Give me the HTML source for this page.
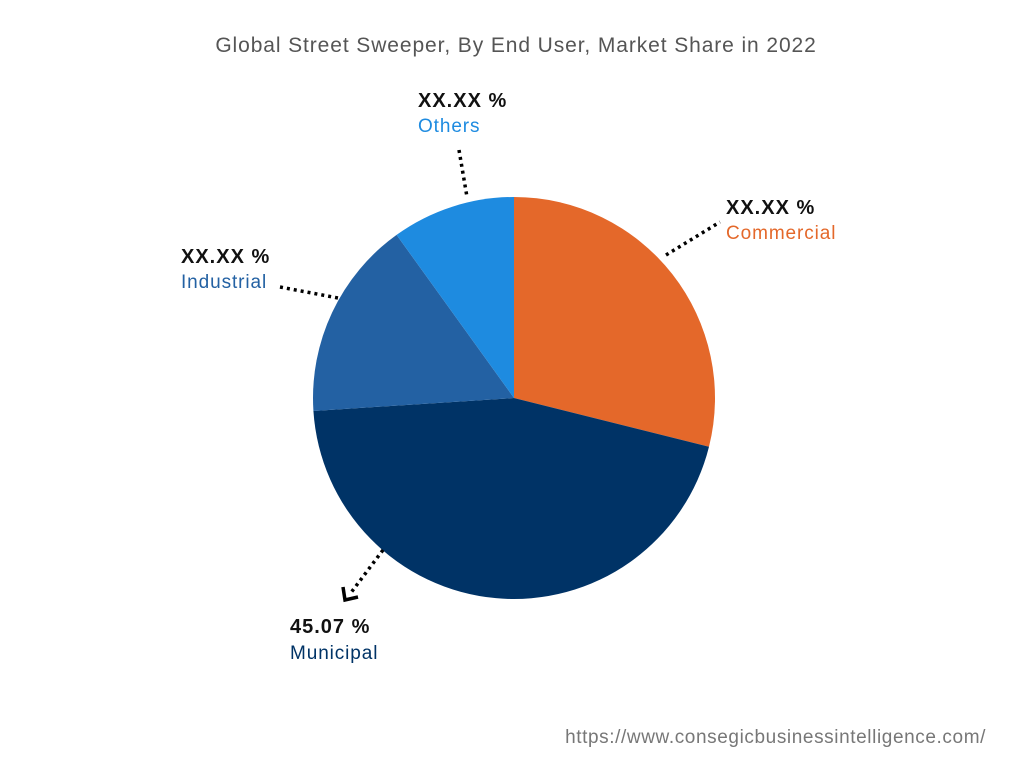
<!DOCTYPE html>
<html><head><meta charset="utf-8"><style>
html,body{margin:0;padding:0;background:#fff;width:1024px;height:768px;overflow:hidden}
svg{display:block}
text{font-family:"Liberation Sans",sans-serif}
</style></head><body>
<svg id="chart" width="1024" height="768">
<text x="516" y="52" text-anchor="middle" font-size="21" letter-spacing="0.9" fill="#555">Global  Street Sweeper, By End User, Market Share in 2022</text>
<g id="slices"></g>
<g stroke="#000" stroke-width="3.5" stroke-dasharray="3,4" fill="none">
<line x1="459" y1="150" x2="467" y2="197"/>
<line x1="666" y1="255" x2="720" y2="222"/>
<line x1="280" y1="287" x2="338" y2="298"/>
<line x1="383" y1="550" x2="350" y2="594"/>
</g>
<polyline points="343,587 345,600 358,597" fill="none" stroke="#000" stroke-width="3.5"/>
<g font-size="20" font-weight="bold" fill="#111" letter-spacing="1">
<text x="418" y="107">XX.XX %</text>
<text x="726" y="214">XX.XX %</text>
<text x="181" y="263">XX.XX %</text>
<text x="290" y="633">45.07 %</text>
</g>
<g font-size="19" letter-spacing="0.9">
<text x="418" y="132" fill="#1E8BE0">Others</text>
<text x="726" y="239" fill="#E4682A">Commercial</text>
<text x="181" y="288" fill="#2361A3">Industrial</text>
<text x="290" y="659" fill="#003366">Municipal</text>
</g>
<text x="986" y="743" text-anchor="end" font-size="19" letter-spacing="0.6" fill="#777">https://www.consegicbusinessintelligence.com/</text>
</svg>
<script>
const categories = ["Commercial","Municipal","Industrial","Others"];
const values = [28.9, 45.07, 16.1, 9.93];
const colors = ["#E4682A","#003366","#2361A3","#1E8BE0"];
const cx=514, cy=398, r=201;
const g=document.getElementById('slices');
const total=values.reduce((a,b)=>a+b,0);
let a0=0;
function pt(a){return [cx+r*Math.sin(a), cy-r*Math.cos(a)];}
values.forEach((v,i)=>{
  const a1=a0+v/total*2*Math.PI;
  const p0=pt(a0), p1=pt(a1);
  const large=(a1-a0)>Math.PI?1:0;
  const p=document.createElementNS('http://www.w3.org/2000/svg','path');
  p.setAttribute('d',`M${cx},${cy} L${p0[0]},${p0[1]} A${r},${r} 0 ${large} 1 ${p1[0]},${p1[1]} Z`);
  p.setAttribute('fill',colors[i]);
  
  
  g.appendChild(p);
  a0=a1;
});
</script>
</body></html>
